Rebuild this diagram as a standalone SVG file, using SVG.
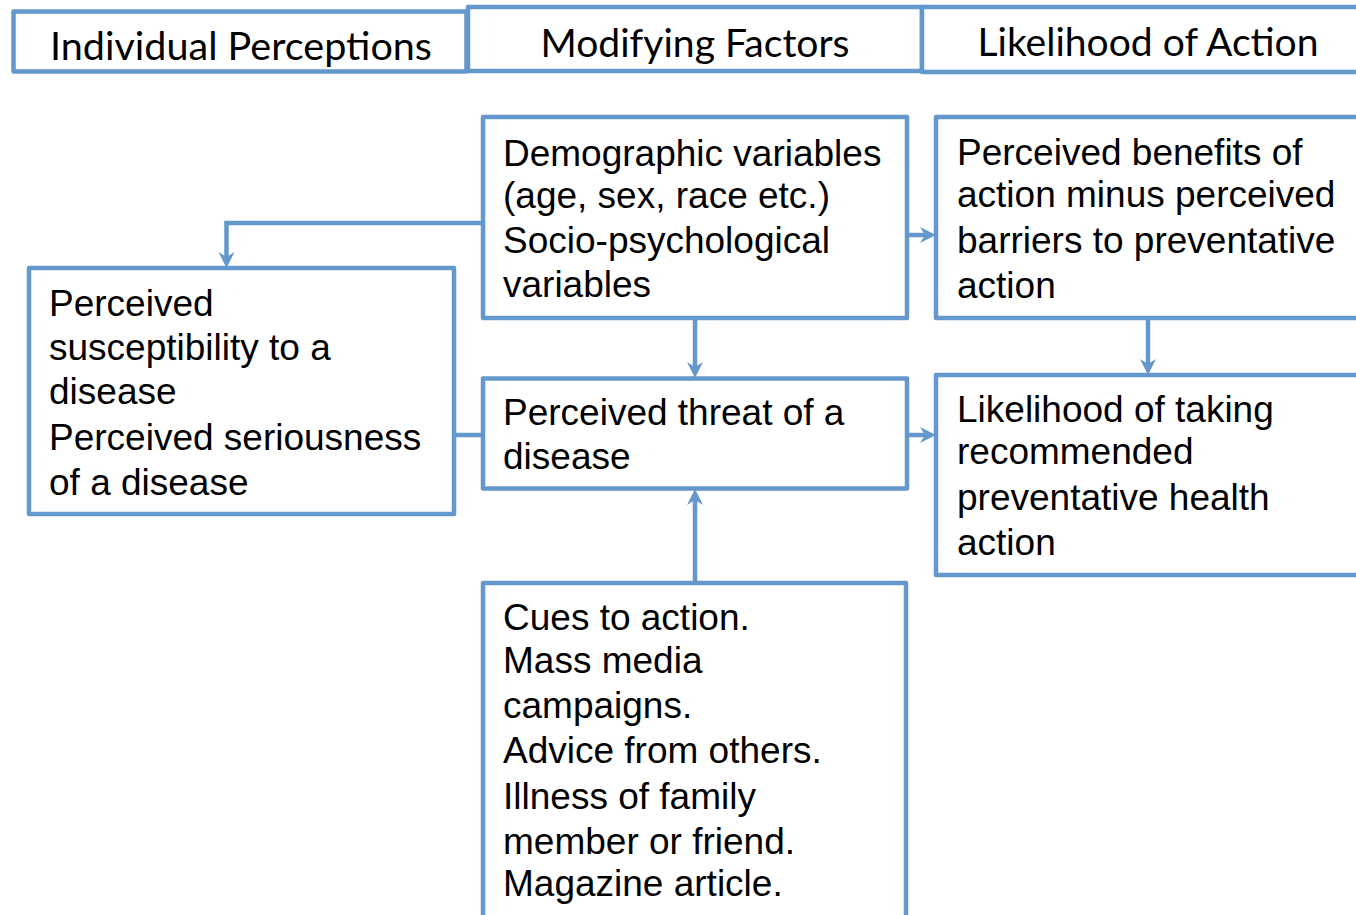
<svg xmlns="http://www.w3.org/2000/svg" width="1356" height="915" viewBox="0 0 1356 915">
<style>
.box{fill:#fff;stroke:#6497CC;stroke-width:4.5;stroke-linejoin:round}
.hd{font-family:Lato,"Open Sans",sans-serif;font-size:38px;fill:#000;text-anchor:middle}
.tx{font-family:"Liberation Sans",Arial,sans-serif;font-size:37px;fill:#000}
.ln{fill:none;stroke:#6497CC;stroke-width:4.5}
.ah{fill:#6497CC}
</style>
<defs>
<path id="arrD" class="ah" d="M0 0 L-8 -16 L0 -11 L8 -16 Z"/>
</defs>
<rect width="1356" height="915" fill="#fff"/>
<g id="header-individual">
<rect class="box" x="13.5" y="11.5" width="453" height="60"/>
<text class="hd" x="241" y="60" textLength="382" lengthAdjust="spacingAndGlyphs">Individual Perceptions</text>
</g>
<g id="header-modifying">
<rect class="box" x="468" y="7" width="454" height="64"/>
<text class="hd" x="695" y="57" textLength="309" lengthAdjust="spacingAndGlyphs">Modifying Factors</text>
</g>
<g id="header-likelihood">
<rect class="box" x="922" y="7" width="440" height="65"/>
<text class="hd" x="1148" y="56" textLength="341" lengthAdjust="spacingAndGlyphs">Likelihood of Action</text>
</g>
<g id="connectors">
<path class="ln" d="M483 223 H226.5 V257"/>
<use href="#arrD" transform="translate(226.5 268)"/>
<path class="ln" d="M695 318 V367"/>
<use href="#arrD" transform="translate(695 378)"/>
<path class="ln" d="M1148 318 V364"/>
<use href="#arrD" transform="translate(1148 375)"/>
<path class="ln" d="M454 435 H483"/>
<path class="ln" d="M907 435 H925"/>
<use href="#arrD" transform="translate(936 435) rotate(-90)"/>
<path class="ln" d="M907 235 H925"/>
<use href="#arrD" transform="translate(936 235) rotate(-90)"/>
<path class="ln" d="M695 583 V500"/>
<use href="#arrD" transform="translate(695 489) rotate(180)"/>
</g>
<g id="demographic">
<rect class="box" x="483" y="117" width="424" height="201"/>
<text class="tx" x="503" y="166">Demographic variables</text>
<text class="tx" x="503" y="208">(age, sex, race etc.)</text>
<text class="tx" x="503" y="253">Socio-psychological</text>
<text class="tx" x="503" y="297">variables</text>
</g>
<g id="benefits">
<rect class="box" x="936" y="117" width="430" height="201"/>
<text class="tx" x="957" y="165">Perceived benefits of</text>
<text class="tx" x="957" y="207">action minus perceived</text>
<text class="tx" x="957" y="253">barriers to preventative</text>
<text class="tx" x="957" y="298">action</text>
</g>
<g id="susceptibility">
<rect class="box" x="29" y="268" width="425" height="246"/>
<text class="tx" x="49" y="316">Perceived</text>
<text class="tx" x="49" y="360">susceptibility to a</text>
<text class="tx" x="49" y="404">disease</text>
<text class="tx" x="49" y="450">Perceived seriousness</text>
<text class="tx" x="49" y="495">of a disease</text>
</g>
<g id="threat">
<rect class="box" x="483" y="378.5" width="424" height="110"/>
<text class="tx" x="503" y="425">Perceived threat of a</text>
<text class="tx" x="503" y="469">disease</text>
</g>
<g id="likelihood">
<rect class="box" x="936" y="375" width="430" height="200"/>
<text class="tx" x="957" y="422">Likelihood of taking</text>
<text class="tx" x="957" y="464">recommended</text>
<text class="tx" x="957" y="510">preventative health</text>
<text class="tx" x="957" y="555">action</text>
</g>
<g id="cues">
<rect class="box" x="483" y="583" width="423" height="350"/>
<text class="tx" x="503" y="630">Cues to action.</text>
<text class="tx" x="503" y="673">Mass media</text>
<text class="tx" x="503" y="718">campaigns.</text>
<text class="tx" x="503" y="763">Advice from others.</text>
<text class="tx" x="503" y="809">Illness of family</text>
<text class="tx" x="503" y="854">member or friend.</text>
<text class="tx" x="503" y="896">Magazine article.</text>
</g>
</svg>
